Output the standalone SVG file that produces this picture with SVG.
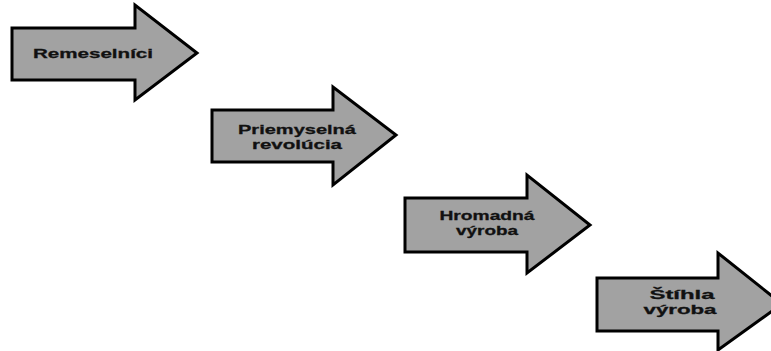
<svg xmlns="http://www.w3.org/2000/svg" width="771" height="351" viewBox="0 0 771 351">
<style>
.arrow{fill:#a2a2a2;stroke:#000;stroke-width:3;stroke-linejoin:miter}
.lbl{font-family:"Liberation Sans",Arial,sans-serif;font-weight:bold;font-size:13px;fill:#111;stroke:#111;stroke-width:0.3;text-anchor:middle}
</style>
<rect width="771" height="351" fill="#fff"/>
<g id="connectors"></g>
<g id="n1">
<polygon class="arrow" points="12,28 135,28 135,5 197,53 135,100 135,80 12,80"/>
<text class="lbl" x="93" y="58" textLength="120" lengthAdjust="spacingAndGlyphs">Remeselníci</text>
</g>
<g id="n2">
<polygon class="arrow" points="212,110 333,110 333,87 396,135 333,185 333,162 212,162"/>
<text class="lbl" x="297" y="134" textLength="118" lengthAdjust="spacingAndGlyphs">Priemyselná</text>
<text class="lbl" x="297" y="149" textLength="90" lengthAdjust="spacingAndGlyphs">revolúcia</text>
</g>
<g id="n3">
<polygon class="arrow" points="405,198 527,198 527,175 590,225 527,273 527,252 405,252"/>
<text class="lbl" x="487" y="220" textLength="95" lengthAdjust="spacingAndGlyphs">Hromadná</text>
<text class="lbl" x="487" y="235" textLength="62" lengthAdjust="spacingAndGlyphs">výroba</text>
</g>
<g id="n4">
<polygon class="arrow" points="597,278 718,278 718,253 782,304 718,350 718,331 597,331"/>
<text class="lbl" x="682" y="299" textLength="65" lengthAdjust="spacingAndGlyphs">Štíhla</text>
<text class="lbl" x="680" y="314" textLength="73" lengthAdjust="spacingAndGlyphs">výroba</text>
</g>
</svg>
